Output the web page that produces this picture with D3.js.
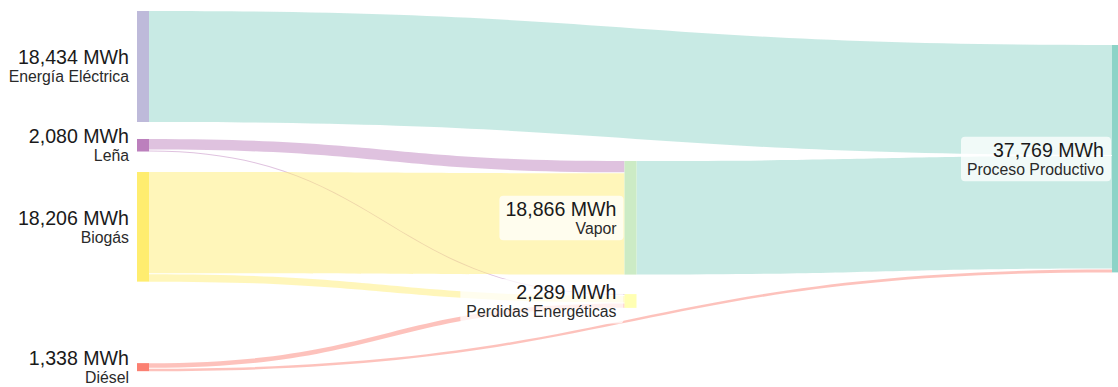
<!DOCTYPE html>
<html>
<head>
<meta charset="utf-8">
<script src="https://cdn.jsdelivr.net/npm/d3@7/dist/d3.min.js"></script>
<style>
  html, body { margin: 0; padding: 0; background: #ffffff; }
  svg { display: block; }
  text { font-family: "Liberation Sans", Arial, Helvetica, sans-serif; }
</style>
</head>
<body>
<svg id="chart" width="1118" height="387"></svg>
<script>
// ---------- data ----------
const nodeNames  = ["Energía Eléctrica", "Leña", "Biogás", "Diésel", "Vapor", "Perdidas Energéticas", "Proceso Productivo"];
const nodeValues = [18434, 2080, 18206, 1338, 18866, 2289, 37769];
const linkSources = ["Energía Eléctrica", "Leña", "Leña", "Biogás", "Biogás", "Diésel", "Diésel", "Vapor"];
const linkTargets = ["Proceso Productivo", "Vapor", "Perdidas Energéticas", "Vapor", "Perdidas Energéticas", "Perdidas Energéticas", "Proceso Productivo", "Proceso Productivo"];
const linkValues  = [18434, 1900, 180, 16966, 1240, 869, 469, 18866];
const unit = "MWh";

// ---------- layout / style (not data) ----------
const nodeColumn = [0, 0, 0, 0, 1, 1, 2];
const columnTop  = [11, 161, 45];          // px, top of first node in each column
const nodeGapBefore = [0, 17, 20.5, 81.5, 0, 19.5, 0]; // px spacing above node within its column
const nodeColors = ["#bebada", "#bc80bd", "#ffed6f", "#fb8072", "#ccebc5", "#ffffb3", "#8dd3c7"];
const linkColorFrom = ["target", "source", "source", "source", "source", "source", "source", "target"];
const nodeWidth = 12;
const linkGap = 1;

const svg = d3.select("#chart");

const x = d3.scaleLinear().domain([0, 2]).range([137, 1112]);
const h = d3.scaleLinear().domain([0, 37769]).range([0, 227.4]);

// nodes
const nodes = nodeNames.map((name, i) => ({ name, value: nodeValues[i], col: nodeColumn[i], color: nodeColors[i], index: i, out: [], inn: [] }));
const byName = new Map(nodes.map(n => [n.name, n]));
const colCursor = columnTop.slice();
nodes.forEach((n, i) => {
  const c = n.col;
  n.y0 = colCursor[c] + nodeGapBefore[i];
  n.y1 = n.y0 + h(n.value);
  colCursor[c] = n.y1;
  n.x0 = x(c);
  n.x1 = n.x0 + nodeWidth;
});

// links
const links = linkValues.map((v, i) => {
  const s = byName.get(linkSources[i]), t = byName.get(linkTargets[i]);
  const l = { source: s, target: t, value: v, index: i };
  l.color = linkColorFrom[i] === "source" ? s.color : t.color;
  s.out.push(l); t.inn.push(l);
  return l;
});

function stack(list, node, key0, key1) {
  const n = list.length;
  const avail = (node.y1 - node.y0) - (n - 1) * linkGap;
  const tot = d3.sum(list, d => d.value);
  let y = node.y0;
  list.forEach(l => {
    const w = l.value / tot * avail;
    l[key0] = y; l[key1] = y + w;
    y += w + linkGap;
  });
}
nodes.forEach(n => {
  stack(n.out, n, "sy0", "sy1");
  const inn = n.inn.slice().sort((a, b) => a.source.y0 - b.source.y0);
  stack(inn, n, "ty0", "ty1");
});

function linkPath(l) {
  const sx = l.source.x1, tx = l.target.x0, mx = (sx + tx) / 2;
  const p = d3.path();
  p.moveTo(sx, l.sy0);
  p.bezierCurveTo(mx, l.sy0, mx, l.ty0, tx, l.ty0);
  p.lineTo(tx, l.ty1);
  p.bezierCurveTo(mx, l.ty1, mx, l.sy1, sx, l.sy1);
  p.closePath();
  return p.toString();
}

svg.append("g").selectAll("path").data(links).join("path")
  .attr("d", linkPath)
  .attr("fill", d => d.color)
  .attr("fill-opacity", 0.48);

svg.append("g").selectAll("rect").data(nodes).join("rect")
  .attr("x", d => d.x0).attr("y", d => d.y0)
  .attr("width", nodeWidth).attr("height", d => d.y1 - d.y0)
  .attr("fill", d => d.color);

const fmt = d3.format(",");
const labels = svg.append("g").selectAll("g").data(nodes).join("g");
labels.each(function (d) {
  const g = d3.select(this);
  const cy = (d.y0 + d.y1) / 2;
  const tx = d.x0 - 8;
  const vb = cy - 2, nb = cy + 16;
  const box = g.append("rect");
  const t1 = g.append("text").attr("x", tx).attr("y", vb).attr("text-anchor", "end")
    .attr("font-size", 19.6).attr("fill", "#1a1a1a").text(fmt(d.value) + " " + unit);
  const t2 = g.append("text").attr("x", tx).attr("y", nb).attr("text-anchor", "end")
    .attr("font-size", 15.8).attr("fill", "#2a2a2a").text(d.name);
  const mw = Math.max(t1.node().getComputedTextLength(), t2.node().getComputedTextLength());
  box.attr("x", tx - mw - 6).attr("y", vb - 20)
    .attr("width", mw + 6 + 7).attr("height", (nb + 6.5) - (vb - 20))
    .attr("rx", 4).attr("fill", "#ffffff").attr("fill-opacity", 0.75);
});
</script>
</body>
</html>
